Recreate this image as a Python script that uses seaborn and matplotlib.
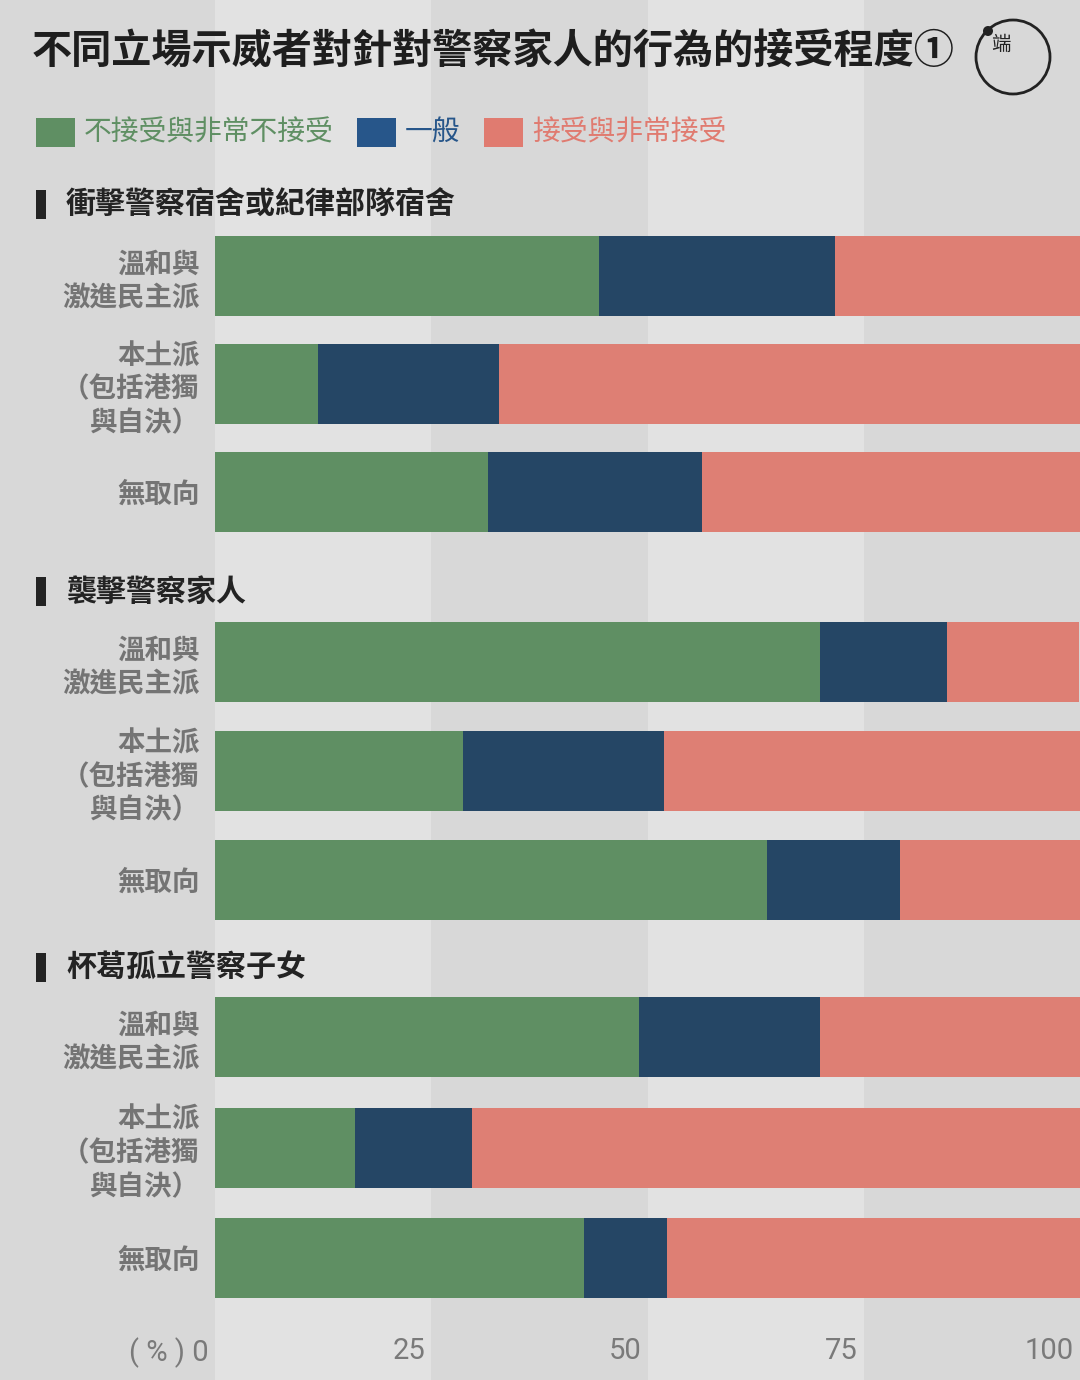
import matplotlib
matplotlib.use('Agg')
import matplotlib.pyplot as plt
import matplotlib.transforms as mtransforms
from matplotlib.patches import Rectangle, Circle
import seaborn as sns
import pandas as pd

sns.set_theme(style='white')
plt.rcParams['font.family'] = ['Noto Sans CJK TC', 'DejaVu Sans']

# ---------------- data ----------------
title = '不同立場示威者對針對警察家人的行為的接受程度①'
groups = ['衝擊警察宿舍或紀律部隊宿舍', '襲擊警察家人', '杯葛孤立警察子女']
stances = ['溫和與\n激進民主派', '本土派\n（包括港獨\n與自決）', '無取向']
series = ['不接受與非常不接受', '一般', '接受與非常接受']
# one row per group, one value per stance
reject = [[44.4, 11.9, 31.6], [69.9, 28.7, 63.8], [49.0, 16.2, 42.7]]
neutral = [[27.3, 20.9, 24.7], [14.7, 23.2, 15.4], [20.9, 13.5, 9.6]]
accept = [[28.3, 67.2, 43.7], [15.3, 48.1, 20.8], [30.1, 70.3, 47.7]]
xticks = [0, 25, 50, 75, 100]
xticklabels = ['( % ) 0', '25', '50', '75', '100']

# ---------------- style ----------------
W, H = 1080, 1380
BG_DARK = '#d8d8d8'
BG_LIGHT = '#e2e2e2'
C_GREEN = '#5f8f63'
C_NAVY = '#254665'
C_PINK = '#de7f74'
LEG_COLORS = ['#5f8f63', '#27568a', '#e07b70']
TXT_GRAY = '#747474'
TXT_DARK = '#232323'

fig = plt.figure(figsize=(W / 100, H / 100), dpi=100, facecolor=BG_DARK)

def fx(px):
    return px / W

def fy(py):
    return 1 - py / H

AX_L = 215
# background stripes spanning full height
bg = fig.add_axes([0, 0, 1, 1], zorder=0)
left_val = -AX_L / (W - AX_L) * 100
bg.set_xlim(left_val, 100)
bg.set_ylim(0, 1)
for i in range(len(xticks) - 1):
    bg.axvspan(xticks[i], xticks[i + 1], color=BG_LIGHT if i % 2 == 0 else BG_DARK, lw=0)
bg.axis('off')

# group axes: (top px, bottom px)
ax_rects = [(222, 546), (607.5, 934.5), (981.75, 1313.25)]
header_y = [205, 592, 968]

for g, (top, bot) in enumerate(ax_rects):
    ax = fig.add_axes([fx(AX_L), fy(bot), fx(W - AX_L), (bot - top) / H], zorder=2)
    ax.patch.set_alpha(0)
    spacing = (bot - top) / 3
    width = 80 / spacing
    df = pd.DataFrame({
        'stance': stances,
        'reject': reject[g],
        'neutral': neutral[g],
        'accept': accept[g],
    })
    df['c1'] = df['reject']
    df['c2'] = df['reject'] + df['neutral']
    df['c3'] = df['c2'] + df['accept']
    for col, colr in [('c3', C_PINK), ('c2', C_NAVY), ('c1', C_GREEN)]:
        sns.barplot(data=df, y='stance', x=col, orient='h', color=colr,
                    saturation=1, width=width, errorbar=None, linewidth=0,
                    order=stances, ax=ax)
    ax.set_xlim(0, 100)
    ax.set_ylim(2.5, -0.5)
    ax.set_xlabel('')
    ax.set_ylabel('')
    for s in ax.spines.values():
        s.set_visible(False)
    ax.tick_params(axis='y', length=0, pad=11)
    for lab in ax.get_yticklabels():
        lab.set_fontsize(19.8)
        lab.set_color(TXT_GRAY)
        lab.set_linespacing(1.25)
        lab.set_fontweight('bold')
    if g == len(ax_rects) - 1:
        ax.set_xticks(xticks)
        ax.set_xticklabels(xticklabels, fontsize=21, color='#7a7a7a',
                           family=['Roboto', 'DejaVu Sans'], fontweight='normal')
        ax.tick_params(axis='x', length=0, pad=17)
        off = mtransforms.ScaledTranslation(-6 / 100, 0, fig.dpi_scale_trans)
        for lab in ax.get_xticklabels():
            lab.set_horizontalalignment('right')
            lab.set_transform(lab.get_transform() + off)
    else:
        ax.set_xticks([])

    # group header
    hy = header_y[g]
    fig.add_artist(Rectangle((fx(36), fy(hy + 14)), fx(10), 29 / H,
                             transform=fig.transFigure, color=TXT_DARK, lw=0))
    fig.text(fx(66), fy(hy), groups[g], fontsize=21.6, fontweight='bold',
             color=TXT_DARK, va='center', ha='left')

# title
fig.text(fx(32), fy(52), title, fontsize=28.9, fontweight='heavy',
         color='#1e1e1e', va='center', ha='left')

# legend
leg_x = [(36, 84), (357, 405), (484, 532)]
for (px, tx), lab, pc, tc in zip(leg_x, series, [C_GREEN, '#27568a', '#e07b70'], LEG_COLORS):
    fig.add_artist(Rectangle((fx(px), fy(147)), fx(39), 29 / H,
                             transform=fig.transFigure, color=pc, lw=0))
    fig.text(fx(tx), fy(133), lab, fontsize=20, color=tc, va='center', ha='left')

# logo
cx, cy = 1013 / 100, (H - 57) / 100
fig.add_artist(Circle((cx, cy), 0.37, transform=fig.dpi_scale_trans,
                      fill=False, edgecolor='#222222', lw=2))
fig.add_artist(Circle((9.88, (H - 31) / 100), 0.05, transform=fig.dpi_scale_trans,
                      color='#222222', lw=0))
fig.text(fx(1001), fy(44), '端', fontsize=14, color='#222222',
         va='center', ha='center')

fig.savefig('out.png', dpi=100, facecolor=BG_DARK)
